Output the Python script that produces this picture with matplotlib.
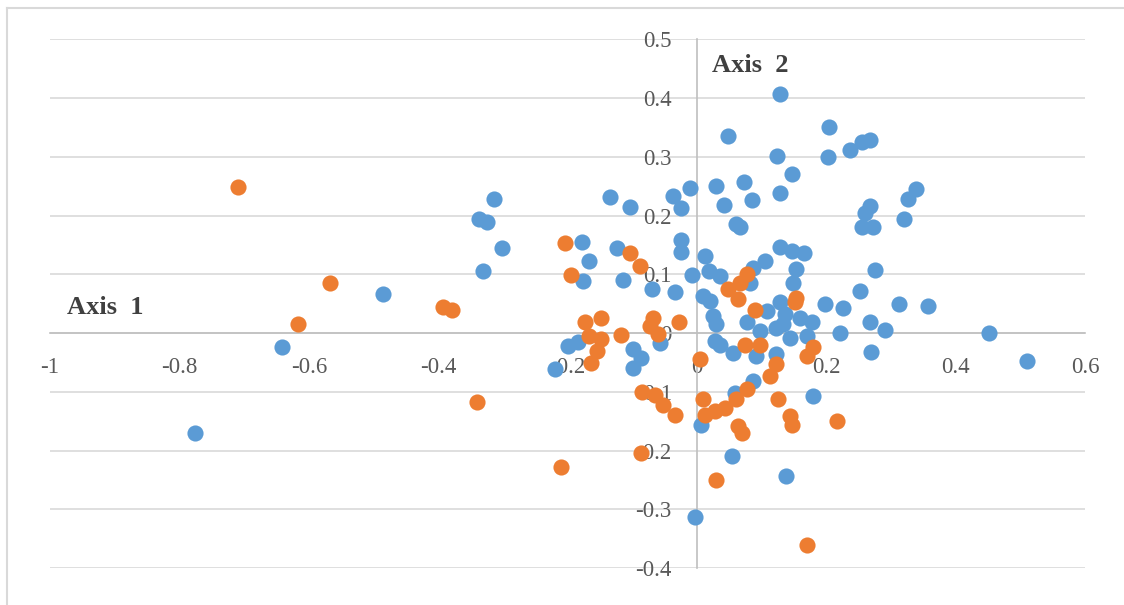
import numpy as np
import matplotlib
matplotlib.use('Agg')
import matplotlib.pyplot as plt
from matplotlib.lines import Line2D

# Blue series (axis 1, axis 2)
blue_x = [-0.313, -0.337, -0.324, -0.302, -0.331, -0.485, -0.641, -0.776,
          -0.135, -0.104, -0.037, -0.010, -0.024,
          0.030, 0.042, 0.073, 0.085, 0.060, 0.066,
          0.128, 0.048, 0.124, 0.147, 0.128,
          0.204, 0.202, 0.236, 0.255, 0.268,
          0.268, 0.260, 0.255, 0.273,
          0.339, 0.326, 0.320,
          0.276, 0.252, 0.312, 0.357, 0.268, 0.291, 0.452, 0.510, 0.269,
          -0.177, -0.167, -0.176, -0.123, -0.114, -0.070, -0.034, -0.025, -0.025,
          0.012, -0.007, 0.018, 0.036, 0.010, 0.020,
          -0.199, -0.184, -0.220, -0.099, -0.086, -0.099, -0.057,
          0.025, 0.030, 0.028, 0.036,
          0.128, 0.147, 0.165, 0.154, 0.149, 0.105, 0.087, 0.082,
          0.077, 0.108, 0.128, 0.136, 0.123, 0.133, 0.144, 0.159, 0.178, 0.170,
          0.098, 0.198, 0.226, 0.221,
          0.056, 0.091, 0.123,
          0.059, 0.087, 0.007, 0.055, -0.003, 0.179, 0.138]
blue_y = [0.228, 0.194, 0.189, 0.144, 0.105, 0.066, -0.024, -0.170,
          0.231, 0.215, 0.234, 0.247, 0.213,
          0.251, 0.218, 0.257, 0.226, 0.185, 0.180,
          0.407, 0.336, 0.302, 0.270, 0.238,
          0.350, 0.299, 0.311, 0.325, 0.328,
          0.216, 0.205, 0.180, 0.181,
          0.245, 0.228, 0.194,
          0.107, 0.072, 0.050, 0.046, 0.019, 0.005, 0.000, -0.047, -0.032,
          0.155, 0.123, 0.089, 0.145, 0.090, 0.075, 0.069, 0.158, 0.138,
          0.131, 0.098, 0.105, 0.097, 0.063, 0.055,
          -0.022, -0.015, -0.062, -0.028, -0.042, -0.060, -0.017,
          0.029, 0.015, -0.014, -0.020,
          0.146, 0.140, 0.137, 0.109, 0.086, 0.123, 0.111, 0.086,
          0.018, 0.038, 0.052, 0.032, 0.009, 0.015, -0.008, 0.026, 0.018, -0.005,
          0.003, 0.049, 0.042, 0.000,
          -0.034, -0.039, -0.036,
          -0.102, -0.082, -0.156, -0.209, -0.314, -0.108, -0.243]

# Orange series
orange_x = [-0.710, -0.567, -0.392, -0.379, -0.617, -0.340, -0.210,
            -0.204, -0.195, -0.104, -0.088,
            -0.173, -0.148, -0.166, -0.148, -0.155, -0.163, -0.117,
            -0.068, -0.073, -0.060, -0.027, 0.005,
            -0.085, -0.065, -0.052, -0.034, 0.010, 0.012, 0.028, 0.043, 0.061,
            0.077, 0.113, 0.123,
            0.077, 0.067, 0.048, 0.064, 0.090, 0.154, 0.152,
            0.074, 0.098, 0.180, 0.170,
            0.064, 0.069, 0.030, 0.126, 0.144, 0.147, 0.216, 0.171, -0.086]
orange_y = [0.249, 0.086, 0.044, 0.039, 0.016, -0.118, -0.228,
            0.154, 0.098, 0.137, 0.114,
            0.018, 0.026, -0.005, -0.011, -0.031, -0.051, -0.003,
            0.026, 0.012, -0.002, 0.019, -0.045,
            -0.100, -0.105, -0.122, -0.139, -0.113, -0.139, -0.133, -0.127, -0.113,
            -0.096, -0.073, -0.053,
            0.100, 0.086, 0.075, 0.058, 0.040, 0.060, 0.052,
            -0.020, -0.020, -0.024, -0.039,
            -0.159, -0.170, -0.250, -0.113, -0.142, -0.156, -0.149, -0.360, -0.204]

x_ticks = [-1, -0.8, -0.6, -0.4, -0.2, 0, 0.2, 0.4, 0.6]
x_tick_labels = ['-1', '-0.8', '-0.6', '-0.4', '-0.2', '0', '0.2', '0.4', '0.6']
y_ticks = [-0.4, -0.3, -0.2, -0.1, 0, 0.1, 0.2, 0.3, 0.4, 0.5]
y_tick_labels = ['-0.4', '-0.3', '-0.2', '-0.1', '0', '0.1', '0.2', '0.3', '0.4', '0.5']

plt.rcParams['font.family'] = ['Liberation Serif', 'DejaVu Serif']

fig = plt.figure(figsize=(11.24, 6.05), dpi=100)
ax = fig.add_axes([50 / 1124, 1 - 568 / 605, 1035 / 1124, 528.7 / 605])

# chart border (top and left edges visible)
fig.add_artist(Line2D([7 / 1124, 1], [1 - 8 / 605, 1 - 8 / 605],
                      color='#D9D9D9', lw=1.5, transform=fig.transFigure))
fig.add_artist(Line2D([7 / 1124, 7 / 1124], [0, 1 - 8 / 605],
                      color='#D9D9D9', lw=1.5, transform=fig.transFigure))

ax.set_xlim(-1, 0.6)
ax.set_ylim(-0.4, 0.5)

# horizontal gridlines
for t in y_ticks:
    ax.axhline(t, color='#D9D9D9', lw=1.2, zorder=0)

ax.scatter(blue_x, blue_y, s=135, color='#5B9BD5', zorder=3, linewidths=0)
ax.scatter(orange_x, orange_y, s=135, color='#ED7D31', zorder=4, linewidths=0)

for side in ['top', 'right']:
    ax.spines[side].set_visible(False)
ax.spines['left'].set_position(('data', 0))
ax.spines['bottom'].set_position(('data', 0))
ax.spines['left'].set_color('#BFBFBF')
ax.spines['bottom'].set_color('#BFBFBF')
ax.spines['left'].set_linewidth(1.2)
ax.spines['bottom'].set_linewidth(1.2)

ax.set_xticks(x_ticks)
ax.set_xticklabels(x_tick_labels)
ax.set_yticks(y_ticks)
ax.set_yticklabels(y_tick_labels)
ax.tick_params(axis='both', length=0, labelsize=16.5, labelcolor='#595959')
ax.tick_params(axis='x', pad=17)
ax.tick_params(axis='y', pad=18)

ax.text(0.023, 0.456, 'Axis  2', fontsize=19, fontweight='bold', color='#404040',
        ha='left', va='center')
ax.text(-0.974, 0.043, 'Axis  1', fontsize=19, fontweight='bold', color='#404040',
        ha='left', va='center')

plt.savefig('out.png', dpi=100)
